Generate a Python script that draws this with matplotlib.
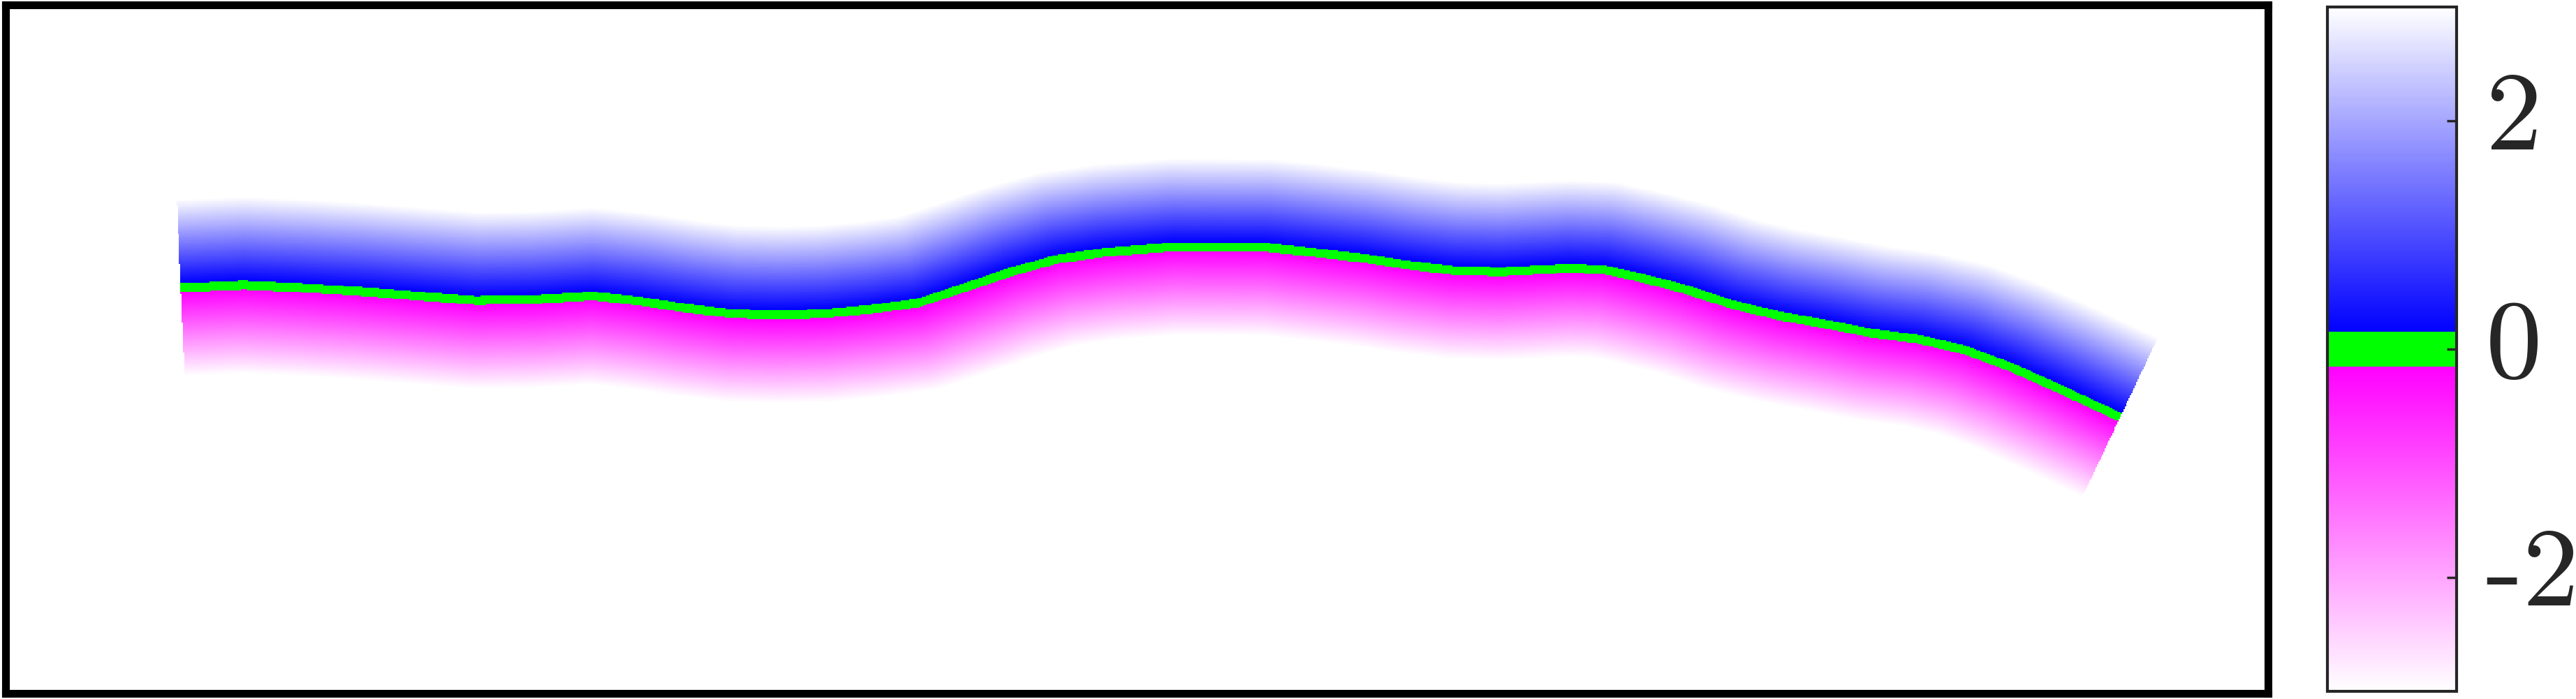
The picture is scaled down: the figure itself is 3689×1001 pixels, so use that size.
import numpy as np
import matplotlib
matplotlib.use("Agg")
import matplotlib.pyplot as plt
from matplotlib.colors import ListedColormap, Normalize

#####################################################################################
# centre line of the band (data units)
line_x = [5.91, 8.04, 10.00, 11.96, 13.95, 15.91, 17.87, 19.86, 21.42, 23.00,
          24.59, 26.15, 27.73, 29.31, 30.87, 32.46, 34.04, 35.60, 37.19, 39.55,
          42.70, 44.28, 45.86, 47.42, 49.01, 50.59, 52.96, 54.14, 55.32, 56.88,
          58.46, 60.05, 61.61, 63.19, 64.78, 66.34, 67.92, 69.50, 71.06, 71.61]
line_y = [13.76, 13.85, 13.76, 13.64, 13.48, 13.33, 13.36, 13.48, 13.31, 13.07,
          12.88, 12.84, 12.88, 13.03, 13.24, 13.76, 14.30, 14.73, 14.96, 15.15,
          15.13, 14.96, 14.78, 14.54, 14.35, 14.30, 14.42, 14.37, 14.11, 13.71,
          13.19, 12.81, 12.53, 12.22, 12.01, 11.65, 11.06, 10.35, 9.62, 9.36]

x_max = 76.6
y_max = 23.35
vlim = 3.0        # colour range -3 .. 3
zero_band = 0.15  # green band around 0

cb_ticks = [-2, 0, 2]
cb_labels = ['-2', '0', '2']

#####################################################################################
W, H, dpi = 3689, 1001, 100

fig = plt.figure(figsize=(W / dpi, H / dpi), dpi=dpi)
ax = fig.add_axes([8 / W, 8 / H, 3240 / W, 986 / H])
cax = fig.add_axes([3333 / W, 11 / H, 185 / W, 980 / H])

#####################################################################################
# colormap: white -> magenta, green at zero, blue -> white
n = 600
vals = np.linspace(-vlim, vlim, n)
cols = np.ones((n, 4))
neg = vals < -zero_band
pos = vals > zero_band
f = (vals[neg] + vlim) / (vlim - zero_band)
cols[neg, 1] = 1.0 - f
f = (vals[pos] - zero_band) / (vlim - zero_band)
cols[pos, 0] = f
cols[pos, 1] = f
mid = ~(neg | pos)
cols[mid, :3] = [0.0, 1.0, 0.0]
cmap = ListedColormap(cols)
cmap.set_bad('white')

#####################################################################################
# signed distance to the centre line
xs = np.linspace(0, x_max, 1800)
ys = np.linspace(0, y_max, 550)
gx, gy = np.meshgrid(xs, ys)

lx = np.array(line_x)
ly = np.array(line_y)
best = np.full(gx.shape, np.inf)
side = np.zeros(gx.shape)
out = np.zeros(gx.shape, dtype=bool)
nseg = len(lx) - 1
for i in range(nseg):
    dx = lx[i + 1] - lx[i]
    dy = ly[i + 1] - ly[i]
    t = ((gx - lx[i]) * dx + (gy - ly[i]) * dy) / (dx * dx + dy * dy)
    tc = np.clip(t, 0, 1)
    cx = lx[i] + tc * dx
    cy = ly[i] + tc * dy
    d = np.hypot(gx - cx, gy - cy)
    upd = d < best
    best[upd] = d[upd]
    cr = dx * (gy - cy) - dy * (gx - cx)
    side[upd] = np.where(cr >= 0, 1.0, -1.0)[upd]
    cond = np.zeros(gx.shape, dtype=bool)
    if i == 0:
        cond |= t < 0
    if i == nseg - 1:
        cond |= t > 1
    out[upd] = cond[upd]

field = side * best
field = np.ma.masked_where((best > vlim) | out, field)

#####################################################################################
im = ax.imshow(field, origin='lower', extent=[0, x_max, 0, y_max], cmap=cmap,
               norm=Normalize(-vlim, vlim), aspect='auto', interpolation='nearest')
ax.set_xlim(0, x_max)
ax.set_ylim(0, y_max)
ax.set_xticks([])
ax.set_yticks([])
for sp in ax.spines.values():
    sp.set_linewidth(8)
    sp.set_color('black')

cbar = fig.colorbar(im, cax=cax, ticks=cb_ticks)
cbar.ax.set_yticklabels(cb_labels, family='cmr10')
cbar.outline.set_linewidth(3)
cbar.outline.set_edgecolor('#262626')
cbar.ax.tick_params(direction='in', length=10, width=2.5, colors='#262626',
                    labelsize=116, pad=30)
for lab in cbar.ax.get_yticklabels():
    lab.set_va('center')

#####################################################################################
fig.savefig("out.png", dpi=dpi)
